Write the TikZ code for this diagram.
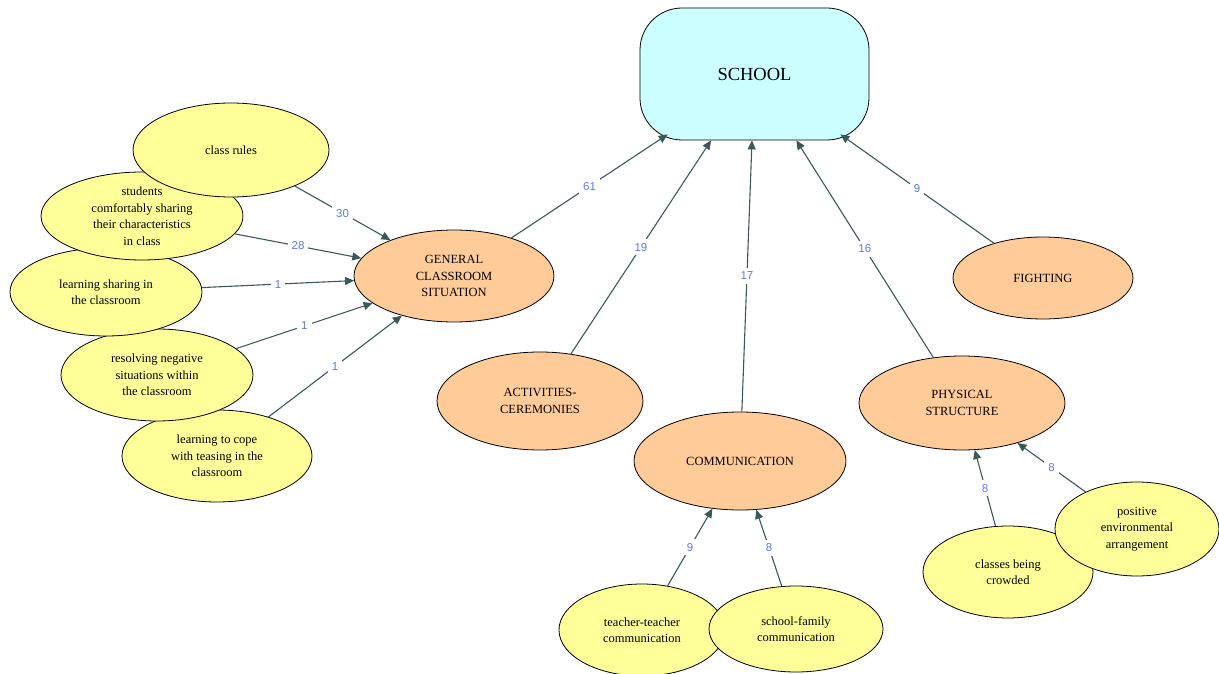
\documentclass[tikz,border=0pt]{standalone}
\usepackage{fontspec}
\setmainfont{Liberation Serif}
\newfontfamily\lblfont{Liberation Sans}
\usetikzlibrary{shapes.geometric,arrows.meta}
\definecolor{yel}{HTML}{FFFF99}
\definecolor{ora}{HTML}{FFCC99}
\definecolor{cya}{HTML}{CCFFFF}
\definecolor{edgec}{HTML}{3A5A5A}
\definecolor{lblc}{HTML}{5A7BE6}
\tikzset{
  base/.style={draw=black, line width=0.8pt, ellipse, inner sep=0pt, align=center,
    font=\fontsize{12.5}{16.5}\selectfont},
  leaf/.style={base, fill=yel},
  topic/.style={base, fill=ora},
  conn/.style={draw=edgec, line width=1.1pt, -{Triangle[length=9pt,width=8pt]}},
  lbl/.style={fill=white, text=lblc, inner sep=4pt, font=\lblfont\fontsize{11.5}{13}\selectfont}
}
\begin{document}
\begin{tikzpicture}[x=1pt,y=-1pt]
\useasboundingbox[fill=white] (0,0) rectangle (1219,674);

% central node
\node[draw=black, line width=0.8pt, fill=cya, rounded corners=42pt, minimum width=229pt,
  minimum height=132pt, inner sep=0pt, font=\fontsize{18.5}{22}\selectfont] (school) at (754.5,74) {SCHOOL};
% points on the rounded lower corners of SCHOOL
\coordinate (schoolSW) at ([shift={(28,-6)}]school.south west);
\coordinate (schoolSE) at ([shift={(-29,-6)}]school.south east);

% topics
\node[topic, minimum width=200pt, minimum height=92pt] (gcs) at (454,276) {GENERAL\\CLASSROOM\\SITUATION};
\node[topic, minimum width=206pt, minimum height=98pt] (act) at (540,401) {ACTIVITIES-\\CEREMONIES};
\node[topic, minimum width=212pt, minimum height=98pt] (comm) at (740,461) {COMMUNICATION};
\node[topic, minimum width=206pt, minimum height=94pt] (phys) at (962,403) {PHYSICAL\\STRUCTURE};
\node[topic, minimum width=180pt, minimum height=82pt] (fight) at (1043,278) {FIGHTING};

% leaves (left group, drawn bottom first)
\node[leaf, minimum width=190pt, minimum height=92pt] (cope) at (217,456) {learning to cope\\with teasing in the\\classroom};
\node[leaf, minimum width=192pt, minimum height=92pt] (resolve) at (157,375) {resolving negative\\situations within\\the classroom};
\node[leaf, minimum width=192pt, minimum height=88pt] (lshare) at (106,292) {learning sharing in\\the classroom};
\node[leaf, minimum width=202pt, minimum height=88pt] (students) at (142,216) {students\\comfortably sharing\\their characteristics\\in class};
\node[leaf, minimum width=196pt, minimum height=94pt] (rules) at (231,150) {class rules};

% leaves (communication)
\node[leaf, minimum width=166pt, minimum height=92pt] (tt) at (642,630) {teacher-teacher\\communication};
\node[leaf, minimum width=174pt, minimum height=86pt] (sf) at (796,629) {school-family\\communication};

% leaves (physical structure)
\node[leaf, minimum width=170pt, minimum height=92pt] (crowd) at (1008,572) {classes being\\crowded};
\node[leaf, minimum width=164pt, minimum height=94pt] (pos) at (1137,529) {positive\\environmental\\arrangement};

% connectors
\draw[conn] (rules) -- node[lbl]{30} (gcs);
\draw[conn] (students) -- node[lbl]{28} (gcs);
\draw[conn] (lshare) -- node[lbl]{1} (gcs);
\draw[conn] (resolve) -- node[lbl]{1} (gcs);
\draw[conn] (cope) -- node[lbl]{1} (gcs);

\draw[conn] (gcs) -- node[lbl]{61} (schoolSW);
\draw[conn] (act) -- node[lbl]{19} (school);
\draw[conn] (comm) -- node[lbl]{17} (school);
\draw[conn] (phys) -- node[lbl]{16} (school);
\draw[conn] (fight) -- node[lbl]{9} (schoolSE);

\draw[conn] (tt) -- node[lbl]{9} (comm);
\draw[conn] (sf) -- node[lbl]{8} (comm);
\draw[conn] (crowd) -- node[lbl]{8} (phys);
\draw[conn] (pos) -- node[lbl]{8} (phys);
\end{tikzpicture}
\end{document}
